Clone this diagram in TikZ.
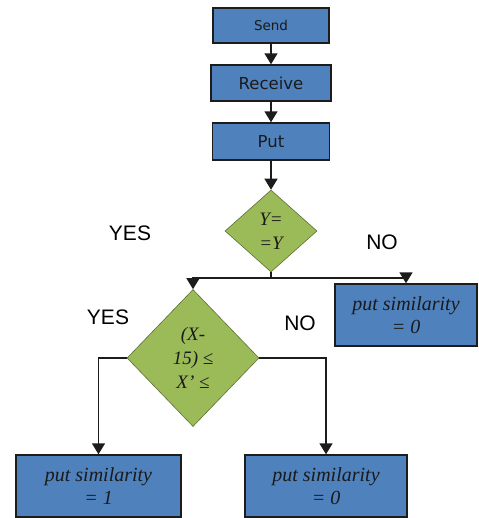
\documentclass[tikz,border=0pt]{standalone}
\usepackage{fontspec}
\setmainfont{Liberation Serif}
\newfontfamily\boxfont{DejaVu Sans}
\newfontfamily\lblfont{Liberation Sans}
\usepackage{xcolor}
\usepackage{tikz}
\usetikzlibrary{shapes.geometric,arrows.meta}
\definecolor{boxblue}{HTML}{4F81BD}
\definecolor{dmgreen}{HTML}{9BBB59}
\definecolor{edge}{HTML}{1C1C1C}
\definecolor{ink}{HTML}{1A1A1A}
\tikzset{
  stepBox/.style={draw=edge, fill=boxblue, line width=1.4pt, inner sep=0pt, text=ink, font=\boxfont\fontsize{16.5}{18}\selectfont},
  endBox/.style={draw=edge, fill=boxblue, line width=1.4pt, inner sep=0pt, align=center, text=ink, font=\itshape\fontsize{20}{23}\selectfont},
  testDm/.style={diamond, draw=dmgreen!60!black, fill=dmgreen, line width=0.6pt, inner sep=0pt, align=center, text=ink, font=\itshape\fontsize{19}{24}\selectfont},
  flow/.style={draw=edge, line width=1.5pt, -{Triangle[width=13pt,length=11pt]}},
  wire/.style={draw=edge, line width=1.5pt},
  branchLbl/.style={text=black, font=\lblfont\fontsize{21}{23}\selectfont},
}

\begin{document}
\begin{tikzpicture}[x=1pt,y=-1pt]
  \useasboundingbox (0,0) rectangle (478,518);

  \node[stepBox, minimum width=116pt, minimum height=35pt] (send) at (271,25.5) {\fontsize{13.5}{15}\selectfont Send};
  \node[stepBox, minimum width=120pt, minimum height=36pt] (recv) at (271,83) {Receive};
  \node[stepBox, minimum width=117pt, minimum height=37pt] (put) at (271,141.5) {Put};

  \node[testDm, minimum width=92pt, minimum height=82pt] (yTest) at (271,231) {Y=\\=Y};
  \node[testDm, minimum width=132pt, minimum height=137pt] (xTest) at (193,358) {(X-\\15) ≤\\X’ ≤};

  \node[endBox, minimum width=142pt, minimum height=62pt] (zeroA) at (406,315) {put similarity\\= 0};
  \node[endBox, minimum width=165pt, minimum height=62pt] (oneB) at (98.5,486) {put similarity\\= 1};
  \node[endBox, minimum width=162pt, minimum height=62pt] (zeroB) at (326,486) {put similarity\\= 0};

  \node[branchLbl] (yesA) at (130,233) {YES};
  \node[branchLbl] (noA) at (382,242) {NO};
  \node[branchLbl] (yesB) at (108,317) {YES};
  \node[branchLbl] (noB) at (300,323) {NO};

  \draw[flow] (send) -- (recv);
  \draw[flow] (recv) -- (put);
  \draw[flow] (put) -- (yTest);

  \coordinate (split) at (271,278);
  \draw[wire] (yTest.south) -- (split);
  \draw[flow] (split) -| (xTest.north);
  \draw[flow] (split) -| (zeroA.north);
  \draw[flow] (xTest.west) -| (oneB.north);
  \draw[flow] (xTest.east) -| (zeroB.north);
\end{tikzpicture}
\end{document}
